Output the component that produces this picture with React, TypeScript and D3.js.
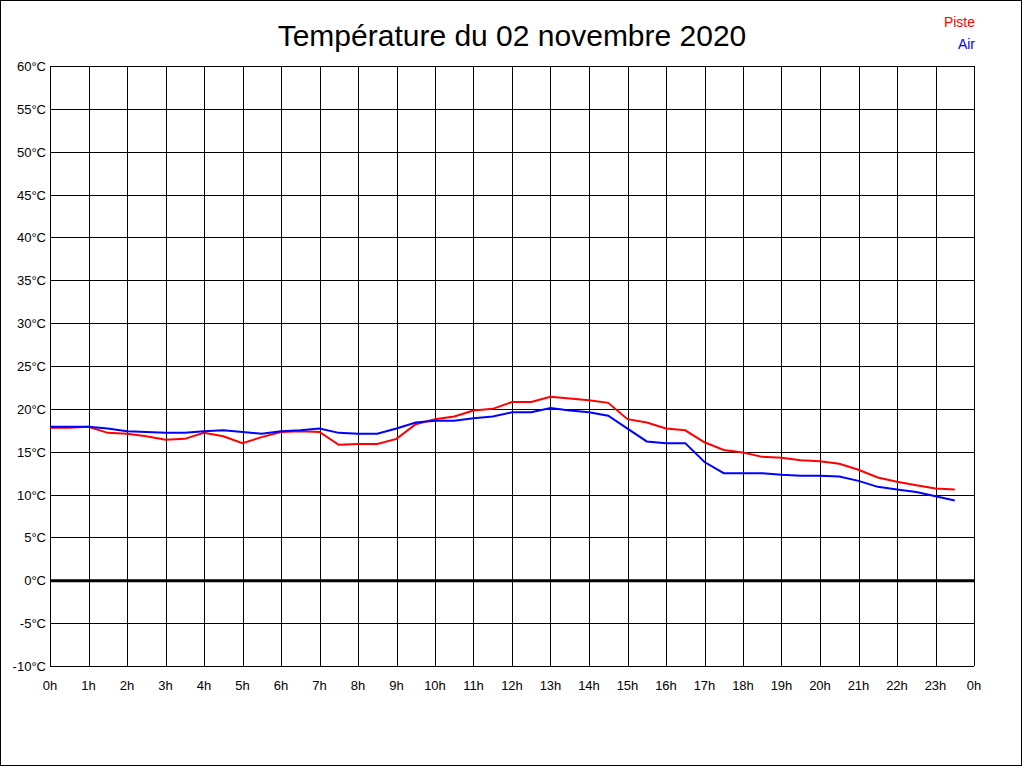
import React from "react";
import * as d3 from "d3";

const hours: number[] = [
  0, 0.5, 1, 1.5, 2, 2.5, 3, 3.5, 4, 4.5, 5, 5.5, 6, 6.5, 7, 7.5, 8, 8.5, 9, 9.5,
  10, 10.5, 11, 11.5, 12, 12.5, 13, 13.5, 14, 14.5, 15, 15.5, 16, 16.5, 17, 17.5,
  18, 18.5, 19, 19.5, 20, 20.5, 21, 21.5, 22, 22.5, 23, 23.5,
];

const piste: number[] = [
  17.8, 17.8, 17.9, 17.2, 17.1, 16.8, 16.4, 16.5, 17.2, 16.8, 16.0, 16.7, 17.3, 17.4, 17.3, 15.8,
  15.9, 15.9, 16.5, 18.2, 18.8, 19.1, 19.8, 20.0, 20.8, 20.8, 21.4, 21.2, 21.0, 20.7, 18.8, 18.4,
  17.7, 17.5, 16.1, 15.2, 14.9, 14.4, 14.3, 14.0, 13.9, 13.6, 12.9, 12.0, 11.5, 11.1, 10.7, 10.6,
];

const air: number[] = [
  17.9, 17.9, 17.9, 17.7, 17.4, 17.3, 17.2, 17.2, 17.4, 17.5, 17.3, 17.1, 17.4, 17.5, 17.7, 17.2,
  17.1, 17.1, 17.7, 18.4, 18.6, 18.6, 18.9, 19.1, 19.6, 19.6, 20.1, 19.8, 19.6, 19.2, 17.7, 16.2,
  16.0, 16.0, 13.8, 12.5, 12.5, 12.5, 12.3, 12.2, 12.2, 12.1, 11.6, 10.9, 10.6, 10.3, 9.8, 9.3,
];

const yTicks: number[] = [-10, -5, 0, 5, 10, 15, 20, 25, 30, 35, 40, 45, 50, 55, 60];
const xTicks: number[] = d3.range(0, 25);
const xTickLabels: string[] = xTicks.map((h) => `${h % 24}h`);

const title = "Température du 02 novembre 2020";
const seriesNames = ["Piste", "Air"];
const seriesColors = ["#ff0000", "#0000ff"];

export default function App() {
  const W = 1024;
  const H = 768;
  const left = 50;
  const right = 974;
  const top = 66;
  const bottom = 666;
  const x = d3.scaleLinear().domain([0, 24]).range([left, right]);
  const y = d3.scaleLinear().domain([-10, 60]).range([bottom, top]);
  const line = d3
    .line<[number, number]>()
    .x((d) => x(d[0]))
    .y((d) => y(d[1]));
  const series = [piste, air];
  const font = "'Liberation Sans', Arial, sans-serif";

  return (
    <>
      <style>{`body{margin:0}`}</style>
      <svg width={W} height={H} style={{ display: "block" }} fontFamily={font}>
        <rect x={0} y={0} width={W} height={H} fill="#fff" />
        <rect x={0.5} y={0.5} width={1021} height={765} fill="none" stroke="#000" strokeWidth={1} />
        <text x={512} y={46} textAnchor="middle" fontSize={30} fill="#000">
          {title}
        </text>
        {seriesNames.map((n, i) => (
          <text
            key={n}
            x={975}
            y={27 + i * 22}
            textAnchor="end"
            fontSize={14}
            fill={seriesColors[i]}
          >
            {n}
          </text>
        ))}
        {yTicks.map((t) => (
          <g key={`y${t}`}>
            <line
              x1={left}
              x2={right}
              y1={Math.round(y(t)) + 0.5}
              y2={Math.round(y(t)) + 0.5}
              stroke="#000"
              strokeWidth={1}
            />
            <text
              x={left - 4}
              y={Math.round(y(t)) + 5}
              textAnchor="end"
              fontSize={13}
              fill="#000"
            >
              {`${t}°C`}
            </text>
          </g>
        ))}
        {xTicks.map((h, i) => (
          <g key={`x${h}`}>
            <line
              x1={Math.round(x(h)) + 0.5}
              x2={Math.round(x(h)) + 0.5}
              y1={top}
              y2={bottom}
              stroke="#000"
              strokeWidth={1}
            />
            <text x={x(h)} y={bottom + 24} textAnchor="middle" fontSize={13} fill="#000">
              {xTickLabels[i]}
            </text>
          </g>
        ))}
        <line x1={left} x2={right} y1={y(0) + 0.5} y2={y(0) + 0.5} stroke="#000" strokeWidth={3} />
        {series.map((s, i) => (
          <path
            key={seriesNames[i]}
            d={line(hours.map((h, j) => [h, s[j]] as [number, number])) || ""}
            fill="none"
            stroke={seriesColors[i]}
            strokeWidth={2}
          />
        ))}
      </svg>
    </>
  );
}
